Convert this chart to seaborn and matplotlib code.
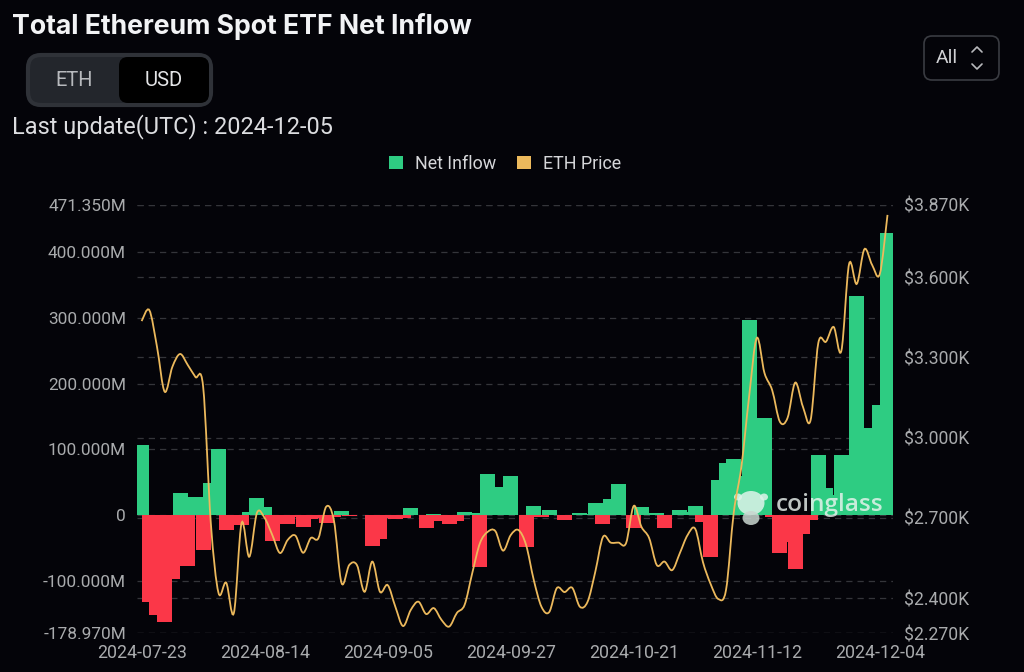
import numpy as np
import pandas as pd
import matplotlib
matplotlib.use("Agg")
import matplotlib.pyplot as plt
from matplotlib.patches import FancyBboxPatch, Patch, Ellipse, PathPatch
from matplotlib.path import Path
import seaborn as sns

net_inflow = [106, -132, -152, -162, -97.6, 34.5, -77, 27, -53, 49, 100, -23, -3, -15, 5, 26, 12, -39, -12, -13.5,
              -2, -18, -5, -4, -12.5, -3, 6.5, -1, 0, 0, -47, -36.5, -4, -5, -4.5, 11.7, 1, -19, 1.5, -8.5,
              -14, -9.5, 5, 3, -78.5, 62, 43, 10, 59, 0, -48, 14, -2.5, 7.6, 0, -8, 0, 3.5, 2, 18,
              -12.6, 25, 48, 0, -20, 12.6, 0, 3, -19, 0, 7.6, 5, 13.7, -10, -63, 53, 79.5, 86, 60, 296,
              140, 148, -3, -58, -40, -81, -29, -8, 92, 41.5, 30, 91, 80, 333, 133, 60, 168, 429]
eth_price = [3436, 3477, 3340, 3172, 3265, 3313, 3272, 3227, 3191, 2681, 2420, 2458, 2345, 2681, 2555, 2719, 2700, 2636, 2569, 2618,
             2634, 2570, 2625, 2625, 2742, 2692, 2457, 2524, 2524, 2424, 2537, 2424, 2449, 2368, 2296, 2356, 2387, 2341, 2363, 2319,
             2294, 2345, 2375, 2494, 2606, 2648, 2651, 2578, 2636, 2655, 2599, 2468, 2368, 2348, 2438, 2423, 2439, 2368, 2387, 2499,
             2629, 2608, 2608, 2606, 2745, 2667, 2625, 2524, 2537, 2505, 2569, 2636, 2659, 2535, 2453, 2397, 2431, 2719, 2892, 3153,
             3373, 3242, 3178, 3060, 3074, 3206, 3116, 3066, 3354, 3359, 3414, 3325, 3649, 3575, 3705, 3646, 3612, 3833]
date_ticks = ["2024-07-23", "2024-08-14", "2024-09-05", "2024-09-27", "2024-10-21", "2024-11-12", "2024-12-04"]
left_ticks = [-178.97, -100, 0, 100, 200, 300, 400, 471.35]
left_labels = ["-178.970M", "-100.000M", "0", "100.000M", "200.000M", "300.000M", "400.000M", "471.350M"]
right_ticks = [2270, 2400, 2700, 3000, 3300, 3600, 3870]
right_labels = ["$2.270K", "$2.400K", "$2.700K", "$3.000K", "$3.300K", "$3.600K", "$3.870K"]

BG = "#040409"
GREEN = "#2ecc82"
RED = "#fb3748"
ORANGE = "#ecb95c"
GRID = "#34353a"
TICK = "#a9abad"
FONT = "Roboto"

sns.set_theme(style="dark", rc={"axes.facecolor": BG, "figure.facecolor": BG})
plt.rcParams["font.family"] = [FONT, "DejaVu Sans"]

W, H = 1024, 672
fig = plt.figure(figsize=(W / 100, H / 100), dpi=100, facecolor=BG)
L, R, T, B = 137, 892.5, 205, 633
ax = fig.add_axes([L / W, 1 - B / H, (R - L) / W, (B - T) / H], facecolor=BG)

df = pd.DataFrame({"day": np.arange(len(net_inflow)), "flow": net_inflow, "price": eth_price})
df["pos"] = df["flow"].where(df["flow"] > 0)
df["neg"] = df["flow"].where(df["flow"] < 0)

bar_kw = dict(order=list(df["day"]), width=1.95, saturation=1, ax=ax, zorder=3, errorbar=None, linewidth=0, edgecolor="none")
sns.barplot(data=df, x="day", y="pos", color=GREEN, **bar_kw)
sns.barplot(data=df, x="day", y="neg", color=RED, **bar_kw)

ax.set_xlim(-0.6, 97.65)
ylo, yhi = left_ticks[0], left_ticks[-1]
ax.set_ylim(ylo, yhi)
ax.set_xlabel("")
ax.set_ylabel("")
ax.set_xticks([i * 16 for i in range(len(date_ticks))])
ax.set_xticklabels(date_ticks, color=TICK, fontsize=12.8)
ax.set_yticks(left_ticks)
ax.set_yticklabels(left_labels, color=TICK, fontsize=12.4)
ax.tick_params(axis="both", length=0)
ax.tick_params(axis="x", pad=8)
ax.tick_params(axis="y", pad=8)
ax.grid(False)
for s in ax.spines.values():
    s.set_visible(False)
for v in left_ticks:
    ax.axhline(v, color=GRID, lw=0.9, ls=(0, (5, 4)), zorder=1)
for p in right_ticks:
    ax.axhline(np.interp(p, [right_ticks[0], right_ticks[-1]], [ylo, yhi]), color=GRID, lw=0.9, ls=(0, (5, 4)), zorder=1)

ax.set_zorder(1)

# price line on the right-hand scale
ax2 = ax.twinx()
ax2.set_zorder(3)
ax2.patch.set_visible(False)
sns.lineplot(data=df, x="day", y="price", color=ORANGE, lw=1.3, ax=ax2, legend=False, errorbar=None)
ax2.set_ylim(right_ticks[0], right_ticks[-1])
ax2.set_xlim(-0.6, 97.65)
ax2.set_yticks(right_ticks)
ax2.set_yticklabels(right_labels, color=TICK, fontsize=12.7)
ax2.tick_params(axis="y", length=0, pad=8)
ax2.set_ylabel("")
ax2.grid(False)
for s in ax2.spines.values():
    s.set_visible(False)

# the chart's line is smoothed: same vertices, joined by Bezier curves instead of straight segments
price_line = ax2.lines[0]
px, py = price_line.get_data()
px, py = np.asarray(px, float), np.asarray(py, float)
verts, codes = [(px[0], py[0])], [Path.MOVETO]
for i in range(len(px) - 1):
    a = max(i - 1, 0)
    d = min(i + 2, len(px) - 1)
    verts += [(px[i] + (px[i + 1] - px[a]) / 6, py[i] + (py[i + 1] - py[a]) / 6),
              (px[i + 1] - (px[d] - px[i]) / 6, py[i + 1] - (py[d] - py[i]) / 6),
              (px[i + 1], py[i + 1])]
    codes += [Path.CURVE4] * 3
ax2.add_patch(PathPatch(Path(verts, codes), fc="none", ec=ORANGE, lw=1.3))
price_line.set_alpha(0)

# page furniture in pixel coordinates
ov = fig.add_axes([0, 0, 1, 1], facecolor="none")
ov.set_xlim(0, W)
ov.set_ylim(H, 0)
ov.axis("off")
ov.set_zorder(2)

ov.text(12, 27, "Total Ethereum Spot ETF Net Inflow", color="#f2f3f5", fontsize=19.2, fontweight="bold", family="Inter", va="center", ha="left")
ov.text(12, 127, "Last update(UTC) : 2024-12-05", color="#dcdde0", fontsize=16.9, va="center", ha="left")

ov.add_patch(FancyBboxPatch((28, 55), 183, 50, boxstyle="round,pad=0,rounding_size=13", fc="#23262c", ec="#2f3238", lw=3))
ov.add_patch(FancyBboxPatch((119, 57), 90, 46, boxstyle="round,pad=0,rounding_size=9", fc="#000000", ec="none"))
ov.text(74, 80, "ETH", color="#b7b9bd", fontsize=14.4, va="center", ha="center")
ov.text(164, 80, "USD", color="#e4e5e7", fontsize=14.6, va="center", ha="center")

ov.add_patch(FancyBboxPatch((924, 36), 75, 44, boxstyle="round,pad=0,rounding_size=8", fc="none", ec="#3a3c42", lw=1.2))
ov.text(947, 58, "All", color="#d0d1d4", fontsize=14, va="center", ha="center")
ov.plot([972, 977, 982], [52, 47, 52], color="#b8b9bc", lw=1.2)
ov.plot([972, 977, 982], [64, 69, 64], color="#b8b9bc", lw=1.2)

leg_handles = [Patch(fc=GREEN, ec="none", label="Net Inflow"), Patch(fc=ORANGE, ec="none", label="ETH Price")]
ov.legend(handles=leg_handles, loc="center", bbox_to_anchor=(505, 164), bbox_transform=ov.transData, ncol=2, frameon=False,
          fontsize=12.9, labelcolor="#d6d7da", handlelength=0.79, handleheight=0.75, handletextpad=0.67, columnspacing=1.18,
          borderpad=0, borderaxespad=0)

# watermark
wm = "#dff3ea"
ov.add_patch(Ellipse((751, 503), 27, 24, fc=wm, ec="none", alpha=0.85))
ov.add_patch(Ellipse((751, 518), 17, 14, fc="#c9d6d0", ec="none", alpha=0.85))
ov.add_patch(Ellipse((738, 497), 8, 7, fc=wm, ec="none", alpha=0.85))
ov.add_patch(Ellipse((764, 497), 8, 7, fc=wm, ec="none", alpha=0.85))
ov.text(776, 505, "coinglass", color="#eef5f1", alpha=0.8, fontsize=17.6, fontweight="semibold", family="Open Sans", va="center", ha="left")

fig.savefig("out.png", dpi=100, facecolor=BG)
